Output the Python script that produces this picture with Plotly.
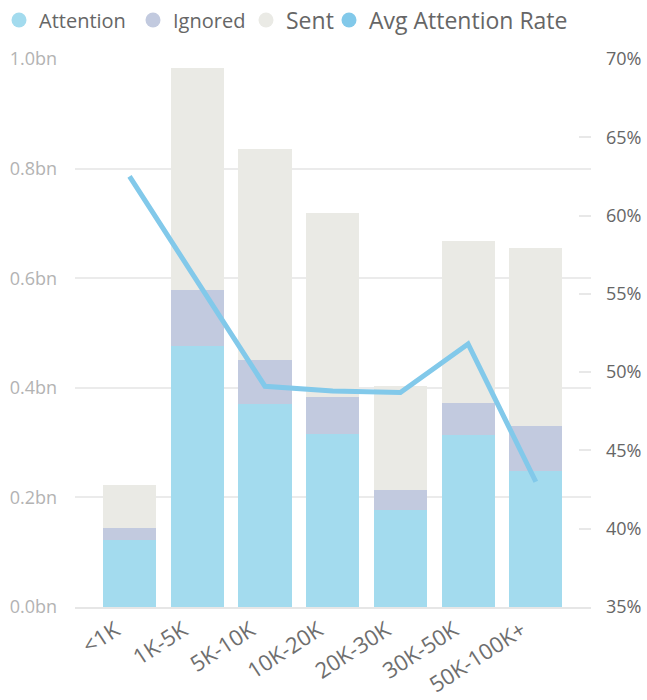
import plotly.graph_objects as go

# Campaign audience buckets and message volumes (billions)
categories = ["<1K", "1K-5K", "5K-10K", "10K-20K", "20K-30K", "30K-50K", "50K-100K+"]
attention = [0.122, 0.477, 0.370, 0.316, 0.177, 0.313, 0.248]
ignored = [0.022, 0.101, 0.081, 0.067, 0.037, 0.059, 0.082]
sent = [0.079, 0.405, 0.385, 0.336, 0.189, 0.296, 0.325]
avg_attention_rate = [62.5, 55.8, 49.1, 48.8, 48.7, 51.8, 43.0]

left_ticks = [0.0, 0.2, 0.4, 0.6, 0.8, 1.0]
left_tick_text = ["0.0bn", "0.2bn", "0.4bn", "0.6bn", "0.8bn", "1.0bn"]
right_ticks = [35, 40, 45, 50, 55, 60, 65, 70]
right_tick_text = ["35%", "40%", "45%", "50%", "55%", "60%", "65%", "70%"]

C_ATT = "#A3DBEE"
C_IGN = "#C2CADF"
C_SENT = "#EAEAE5"
C_LINE = "#82C9EA"
FONT = "Segoe UI, Open Sans, sans-serif"

W, H = 647, 700
ML, MR, MT, MB = 75, 56, 59, 93
PW, PH = W - ML - MR, H - MT - MB

fig = go.Figure()

for name, vals, col in [("Attention", attention, C_ATT),
                        ("Ignored", ignored, C_IGN),
                        ("Sent", sent, C_SENT)]:
    fig.add_trace(go.Bar(x=categories, y=vals, name=name, marker_color=col,
                         marker_line_width=0, showlegend=False))

fig.add_trace(go.Scatter(x=categories, y=avg_attention_rate, name="Avg Attention Rate",
                         mode="lines", line=dict(color=C_LINE, width=5),
                         yaxis="y2", showlegend=False))

# One legend box per entry so each label keeps its own font size
legend_items = [
    ("Attention", C_ATT, "legend", 19, 20),
    ("Ignored", C_IGN, "legend2", 153, 20),
    ("Sent", C_SENT, "legend3", 266, 23),
    ("Avg Attention Rate", C_LINE, "legend4", 349, 23),
]
legend_layout = {}
for name, col, leg, cx, fsize in legend_items:
    fig.add_trace(go.Scatter(x=[None], y=[None], mode="markers", name=name,
                             marker=dict(symbol="circle", size=15, color=col),
                             legend=leg, showlegend=True))
    legend_layout[leg] = dict(
        orientation="h", x=(cx - 20 - ML) / PW, xanchor="left",
        y=1 + (MT - 20) / PH, yanchor="middle",
        font=dict(size=fsize, color="#666666", family=FONT),
        itemsizing="trace", bgcolor="rgba(0,0,0,0)", itemwidth=30,
    )

fig.update_layout(
    width=W, height=H,
    margin=dict(l=ML, r=MR, t=MT, b=MB, autoexpand=False),
    paper_bgcolor="white", plot_bgcolor="white",
    barmode="stack", bargap=0.215,
    font=dict(family=FONT, color="#666666"),
    xaxis=dict(type="category", range=[-0.805, 6.815], tickangle=-33,
               tickfont=dict(size=22, color="#6e6e6e"), showgrid=False,
               showline=True, linecolor="#e6e6e6", linewidth=2, ticks="",
               zeroline=False, ticklabelshift=-14),
    yaxis=dict(range=[0, 1.0], tickvals=left_ticks, ticktext=left_tick_text,
               tickfont=dict(size=18, color="#b3b3b3"), showgrid=True,
               gridcolor="#ebebeb", gridwidth=1.5, zeroline=False,
               ticklabelstandoff=17),
    yaxis2=dict(range=[35, 70], overlaying="y", side="right",
                tickvals=right_ticks, ticktext=right_tick_text,
                tickfont=dict(size=18, color="#666666"), showgrid=False,
                ticks="inside", ticklen=12, tickcolor="#e8e8e8", tickwidth=1.5,
                zeroline=False, ticklabelstandoff=14),
    **legend_layout,
)

fig.write_html("out.html")
